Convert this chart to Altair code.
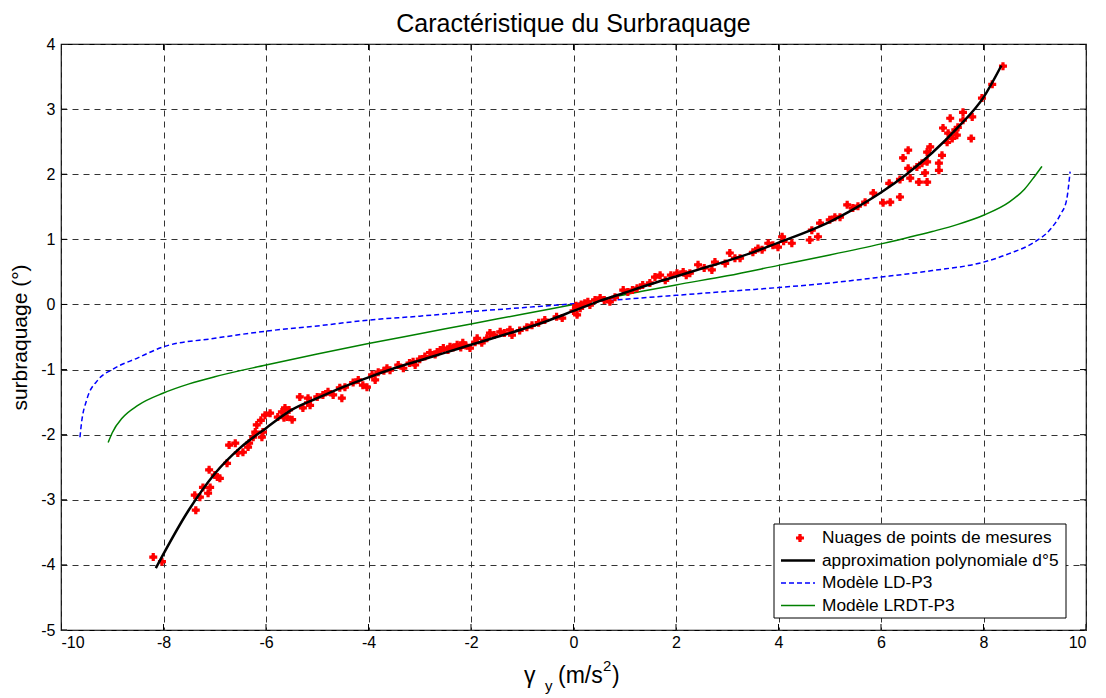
import altair as alt
import pandas as pd

# ---------------- data ----------------
pts_x = [-8.20, -8.03, -7.37, -7.39, -7.29, -7.23, -7.13, -7.09, -7.11, -6.95, -6.90, -7.00,
         -6.76, -6.72, -6.60, -6.55, -6.45, -6.35, -6.33, -6.25, -6.18, -6.21, -6.08, -6.06,
         -6.02, -5.92, -5.77, -5.69, -5.63, -5.59, -5.49, -5.34, -5.28, -5.18, -5.14, -5.18,
         -5.00, -4.89, -4.79, -4.69, -4.52, -4.56, -4.46, -4.11, -4.03, -3.93, -3.87, -3.81,
         -3.64, -3.58, -3.42, -3.32, -3.13, -3.09, -2.80, -2.66, -2.54, -2.41, -2.27, -2.16,
         -2.02, -1.92, -1.79, -1.69, -1.88, -1.63, -1.43, -1.24, -1.20, -0.91, -0.81, -0.56,
         -0.33, -0.22, 0.07, 0.13, 0.22, 0.32, 0.42, 0.52, 0.71, 0.81, 0.97, 1.06,
         1.24, 1.49, 1.59, 1.69, 1.79, 2.02, 2.14, 2.27, 2.43, 2.70, 2.76, 2.96,
         3.05, 3.15, 3.25, 3.68, 3.80, 3.89, 3.99, 4.07, 4.26, 4.61, 4.65, 4.77,
         4.81, 5.10, 5.20, 5.34, 5.69, 5.85, 6.04, 6.18, 6.37, 6.16, 6.37, 6.57,
         6.74, 6.90, 6.86, 6.43, 6.53, 6.53, 6.70, 6.80, 6.90, 6.90, 6.96, 7.19,
         7.13, 7.13, 7.21, 7.31, 7.35, 7.29, 7.39, 7.45, 7.50, 7.48, 7.60, 7.60,
         7.78, 7.76, 7.97, 8.17, 8.38,
         -3.00, -2.90, -2.70, -2.60, -2.45, -2.35, -2.20, -2.10, -1.55, -1.35, -1.05, -0.68,
         0.00, 0.05, 0.15, 0.28, 0.60, 1.15, 1.35, 1.90, 2.20, 2.55, 3.50, 3.60,
         4.10, 5.00, 5.45, 5.55, -4.30, -4.20, -3.70, -3.20, -5.55, -5.65, -6.10]
pts_y = [-3.88, -3.95, -3.16, -2.93, -2.96, -2.81, -2.90, -2.81, -2.54, -2.65, -2.67, -2.62,
         -2.44, -2.16, -2.13, -2.28, -2.27, -2.19, -2.13, -2.04, -1.85, -1.96, -2.04, -1.96,
         -1.70, -1.67, -1.73, -1.65, -1.59, -1.73, -1.77, -1.42, -1.59, -1.51, -1.55, -1.44,
         -1.42, -1.39, -1.34, -1.39, -1.44, -1.28, -1.27, -1.24, -1.27, -1.08, -1.16, -1.04,
         -0.98, -1.01, -0.93, -0.98, -0.88, -0.93, -0.74, -0.73, -0.67, -0.65, -0.62, -0.59,
         -0.67, -0.58, -0.59, -0.52, -0.52, -0.44, -0.42, -0.39, -0.47, -0.35, -0.32, -0.24,
         -0.19, -0.21, -0.16, -0.06, 0.02, -0.01, 0.07, 0.10, 0.04, 0.11, 0.22, 0.19,
         0.25, 0.33, 0.42, 0.45, 0.37, 0.48, 0.50, 0.48, 0.61, 0.53, 0.65, 0.63,
         0.79, 0.71, 0.71, 0.84, 0.94, 0.91, 0.88, 1.04, 0.94, 0.99, 1.14, 1.04,
         1.25, 1.34, 1.34, 1.53, 1.57, 1.71, 1.56, 1.57, 1.65, 1.86, 1.92, 1.94,
         1.88, 1.88, 2.02, 2.25, 2.37, 2.09, 2.11, 2.17, 2.19, 2.34, 2.42, 2.29,
         2.17, 2.06, 2.71, 2.63, 2.86, 2.49, 2.55, 2.68, 2.72, 2.60, 2.83, 2.95,
         2.88, 2.55, 3.17, 3.38, 3.66,
         -0.84, -0.80, -0.77, -0.70, -0.70, -0.66, -0.66, -0.63, -0.47, -0.44, -0.40, -0.28,
         -0.10, -0.02, 0.00, 0.04, 0.07, 0.22, 0.30, 0.45, 0.45, 0.56, 0.80, 0.86,
         0.97, 1.30, 1.48, 1.51, -1.20, -1.16, -1.02, -0.90, -1.62, -1.74, -1.78]

poly_x = [-8.15, -7.5, -7.0, -6.5, -6.0, -5.5, -5.0, -4.5, -4.0, -3.5, -3.0, -2.5, -2.0, -1.5,
          -1.0, -0.5, 0.0, 0.5, 1.0, 1.5, 2.0, 2.5, 3.0, 3.5, 4.0, 4.5, 5.0, 5.5, 6.0, 6.5,
          7.0, 7.5, 8.0, 8.35]
poly_y = [-4.05, -3.15, -2.60, -2.20, -1.90, -1.62, -1.44, -1.27, -1.12, -0.98, -0.86, -0.74,
          -0.62, -0.50, -0.38, -0.25, -0.10, 0.05, 0.18, 0.31, 0.43, 0.55, 0.67, 0.80, 0.95,
          1.10, 1.27, 1.48, 1.72, 2.00, 2.33, 2.72, 3.18, 3.67]

ld_x = [-9.63, -9.60, -9.50, -9.28, -9.0, -8.5, -8.0, -7.0, -6.0, -5.0, -4.0, -3.0, -2.0,
        -1.0, 0.0, 1.0, 2.0, 3.0, 4.0, 5.0, 6.0, 7.0, 8.0, 8.5, 9.0, 9.3, 9.5, 9.62, 9.69]
ld_y = [-2.04, -1.82, -1.47, -1.16, -1.00, -0.82, -0.65, -0.52, -0.41, -0.33, -0.24, -0.18,
        -0.11, -0.05, 0.01, 0.08, 0.14, 0.20, 0.26, 0.33, 0.42, 0.52, 0.65, 0.78, 0.96, 1.15,
        1.38, 1.60, 2.04]

lrdt_x = [-9.08, -9.0, -8.8, -8.5, -8.0, -7.5, -7.0, -6.0, -5.0, -4.0, -3.0, -2.0, -1.0, 0.0,
          1.0, 2.0, 3.0, 4.0, 5.0, 6.0, 7.0, 7.5, 8.0, 8.5, 8.8, 9.0, 9.14]
lrdt_y = [-2.12, -1.97, -1.74, -1.55, -1.36, -1.22, -1.11, -0.93, -0.76, -0.60, -0.45, -0.30,
          -0.15, 0.0, 0.15, 0.30, 0.44, 0.60, 0.76, 0.93, 1.12, 1.23, 1.37, 1.57, 1.77, 1.97, 2.12]

x_ticks = [-10, -8, -6, -4, -2, 0, 2, 4, 6, 8, 10]
y_ticks = [-5, -4, -3, -2, -1, 0, 1, 2, 3, 4]
legend_labels = ["Nuages de points de mesures", "approximation polynomiale d°5",
                 "Modèle LD-P3", "Modèle LRDT-P3"]
title_text = "Caractéristique du Surbraquage"
y_title = "surbraquage (°)"

# ---------------- styling ----------------
W, H = 1025, 586
FONT = "Liberation Sans"

xs = alt.Scale(domain=[-10, 10], nice=False, zero=False)
ys = alt.Scale(domain=[-5, 4], nice=False, zero=False)

x_axis = alt.Axis(values=x_ticks, grid=True, ticks=False, domain=False, title=None,
                  labelFont=FONT, labelFontSize=16, labelColor="black", labelPadding=4,
                  labelExpr="'' + datum.value",
                  gridDash=[6, 5], gridColor="#333333", gridWidth=1)
y_axis = alt.Axis(values=y_ticks, grid=True, ticks=False, domain=False, title=y_title,
                  labelFont=FONT, labelFontSize=16, labelColor="black", labelPadding=6,
                  labelExpr="'' + datum.value",
                  gridDash=[6, 5], gridColor="#333333", gridWidth=1,
                  titleFont=FONT, titleFontSize=21, titleFontWeight="normal",
                  titleColor="black", titleX=-31, titleY=H / 2, titleBaseline="bottom")

X = alt.X("x:Q", scale=xs, axis=x_axis)
Y = alt.Y("y:Q", scale=ys, axis=y_axis)

pts_df = pd.DataFrame({"x": pts_x, "y": pts_y})
poly_df = pd.DataFrame({"x": poly_x, "y": poly_y})
ld_df = pd.DataFrame({"x": ld_x, "y": ld_y})
lrdt_df = pd.DataFrame({"x": lrdt_x, "y": lrdt_y})

pts_cross = alt.Chart(pts_df).mark_point(shape="cross", filled=True, size=64, color="#ff0000",
                                          opacity=1).encode(x=X, y=Y)
pts_diam = alt.Chart(pts_df).mark_point(shape="diamond", filled=True, size=42, color="#ff0000",
                                         opacity=1).encode(x=X, y=Y)
poly_line = alt.Chart(poly_df).mark_line(color="black", strokeWidth=2.5,
                                         interpolate="monotone").encode(x=X, y=Y)
ld_line = alt.Chart(ld_df).mark_line(color="#0000ff", strokeWidth=1.5, strokeDash=[5, 3],
                                     interpolate="monotone").encode(x=X, y=Y)
lrdt_line = alt.Chart(lrdt_df).mark_line(color="#008000", strokeWidth=1.5,
                                         interpolate="monotone").encode(x=X, y=Y)

# inward ticks on the four sides of the box (clipped to the plot area)
tb_df = pd.DataFrame({"x": x_ticks * 2, "y": [-5] * len(x_ticks) + [4] * len(x_ticks)})
lr_df = pd.DataFrame({"x": [-10] * len(y_ticks) + [10] * len(y_ticks), "y": y_ticks * 2})
ticks_tb = alt.Chart(tb_df).mark_tick(orient="vertical", size=12, thickness=1, color="black",
                                      clip=True, opacity=1).encode(x=X, y=Y)
ticks_lr = alt.Chart(lr_df).mark_tick(orient="horizontal", size=12, thickness=1, color="black",
                                      clip=True, opacity=1).encode(x=X, y=Y)

# ---------------- legend (drawn box) ----------------
one = pd.DataFrame({"k": [0]})
LX0, LX1, LY0, LY1 = 713, 1005, 480, 574
row_y = [494, 516.5, 539, 561.5]
sym_x0, sym_x1, sym_xc, txt_x = 720, 754, 739, 761

legend_layers = [
    alt.Chart(one).mark_rect(fill="white", stroke="black", strokeWidth=1).encode(
        x=alt.value(LX0), x2=alt.value(LX1), y=alt.value(LY0), y2=alt.value(LY1))
]
legend_layers.append(alt.Chart(one).mark_point(shape="cross", filled=True, size=64,
                     color="#ff0000", opacity=1).encode(x=alt.value(sym_xc), y=alt.value(row_y[0])))
legend_layers.append(alt.Chart(one).mark_point(shape="diamond", filled=True, size=42,
                     color="#ff0000", opacity=1).encode(x=alt.value(sym_xc), y=alt.value(row_y[0])))
line_styles = [None,
               dict(color="black", strokeWidth=2.5),
               dict(color="#0000ff", strokeWidth=1.5, strokeDash=[5, 3]),
               dict(color="#008000", strokeWidth=1.5)]
for i in range(1, 4):
    legend_layers.append(alt.Chart(one).mark_rule(**line_styles[i]).encode(
        x=alt.value(sym_x0), x2=alt.value(sym_x1), y=alt.value(row_y[i])))
for i, lab in enumerate(legend_labels):
    legend_layers.append(alt.Chart(pd.DataFrame({"t": [lab]})).mark_text(
        align="left", baseline="middle", font=FONT, fontSize=17.3, color="black").encode(
        x=alt.value(txt_x), y=alt.value(row_y[i]), text="t:N"))

# ---------------- x-axis title with sub/superscript ----------------
def txt(s, x, y, size, baseline="alphabetic"):
    return alt.Chart(pd.DataFrame({"t": [s]})).mark_text(
        align="left", baseline=baseline, font=FONT, fontSize=size, color="black").encode(
        x=alt.value(x), y=alt.value(y), text="t:N")

xt_layers = [
    txt("γ", 463, 639, 23),
    txt("y", 484, 647, 15),
    txt("(m/s", 497, 639, 23),
    txt("2", 542, 627, 15),
    txt(")", 551, 639, 23),
]

chart = alt.layer(
    lrdt_line, ld_line, pts_cross, pts_diam, poly_line, ticks_tb, ticks_lr,
    *legend_layers, *xt_layers
).properties(
    width=W, height=H,
    title=alt.TitleParams(title_text, font=FONT, fontSize=25, fontWeight="normal",
                          color="black", anchor="middle", offset=-1),
    autosize=alt.AutoSizeParams(type="none"),
    padding={"left": 53, "top": 36, "right": 12, "bottom": 66},
).configure_view(stroke="black", strokeWidth=1.2)

chart.save("out.html", embed_options={"renderer": "svg", "actions": False})
